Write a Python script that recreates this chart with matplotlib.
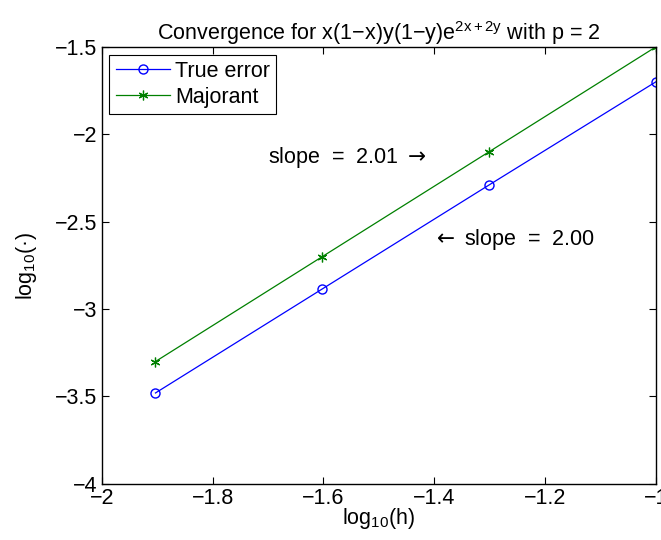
import matplotlib
matplotlib.use("Agg")
import matplotlib.pyplot as plt
import numpy as np

plt.rcParams['font.family'] = ['Liberation Sans', 'DejaVu Sans']
plt.rcParams['mathtext.fontset'] = 'custom'
plt.rcParams['mathtext.rm'] = 'Liberation Sans'
plt.rcParams['mathtext.it'] = 'Liberation Sans'
plt.rcParams['mathtext.sf'] = 'DejaVu Sans'
plt.rcParams['mathtext.default'] = 'regular'

log_h = [-1.9031, -1.6021, -1.3010, -1.0]
true_error = [-3.48, -2.885, -2.29, -1.70]
majorant = [-3.30, -2.70, -2.10, -1.50]
xticks = [-2, -1.8, -1.6, -1.4, -1.2, -1]
yticks = [-4, -3.5, -3, -2.5, -2, -1.5]

FS = 15.5

fig = plt.figure(figsize=(6.61, 5.40), dpi=100)
ax = fig.add_axes([0.154, 0.104, 0.838, 0.809])

ax.plot(log_h, true_error, color=(0, 0, 1), marker='o', markersize=6.5,
        markerfacecolor='none', markeredgecolor=(0, 0, 1), linewidth=0.9,
        label='True error')
ax.plot(log_h, majorant, color=(0, 0.5, 0), marker=(6, 2, 0), markersize=7,
        markeredgewidth=0.9, linewidth=0.9, label='Majorant')

ax.set_xlim(-2, -1)
ax.set_ylim(-4, -1.5)
ax.set_xticks(xticks)
ax.set_yticks(yticks)
ax.set_xticklabels(['\u22122', '\u22121.8', '\u22121.6', '\u22121.4', '\u22121.2', '\u22121'])
ax.set_yticklabels(['\u22124', '\u22123.5', '\u22123', '\u22122.5', '\u22122', '\u22121.5'])
ax.tick_params(direction='in', length=5, width=0.8, labelsize=FS, top=True, right=True, pad=3)
for s in ax.spines.values():
    s.set_linewidth(1.0)

ax.set_title('Convergence for x(1\u2212x)y(1\u2212y)e$^{2x+2y}$ with p = 2', fontsize=FS, pad=5)
ax.set_xlabel('log$_{10}$(h)', fontsize=FS, labelpad=-2)
ax.set_ylabel('log$_{10}$(\u00b7)', fontsize=FS, labelpad=12)

ax.text(-1.70, -2.135, 'slope  =  2.01 $\\mathsf{\\rightarrow}$', fontsize=FS, va='center', ha='left')
ax.text(-1.402, -2.60, '$\\mathsf{\\leftarrow}$ slope  =  2.00', fontsize=FS, va='center', ha='left')

leg = ax.legend(loc='upper left', fontsize=FS, fancybox=False, framealpha=1,
                edgecolor='black', borderpad=0.3, handlelength=2.5,
                labelspacing=0.22, borderaxespad=0.35, handletextpad=0.25)
leg.get_frame().set_linewidth(0.8)

fig.savefig('out.png', dpi=100)
